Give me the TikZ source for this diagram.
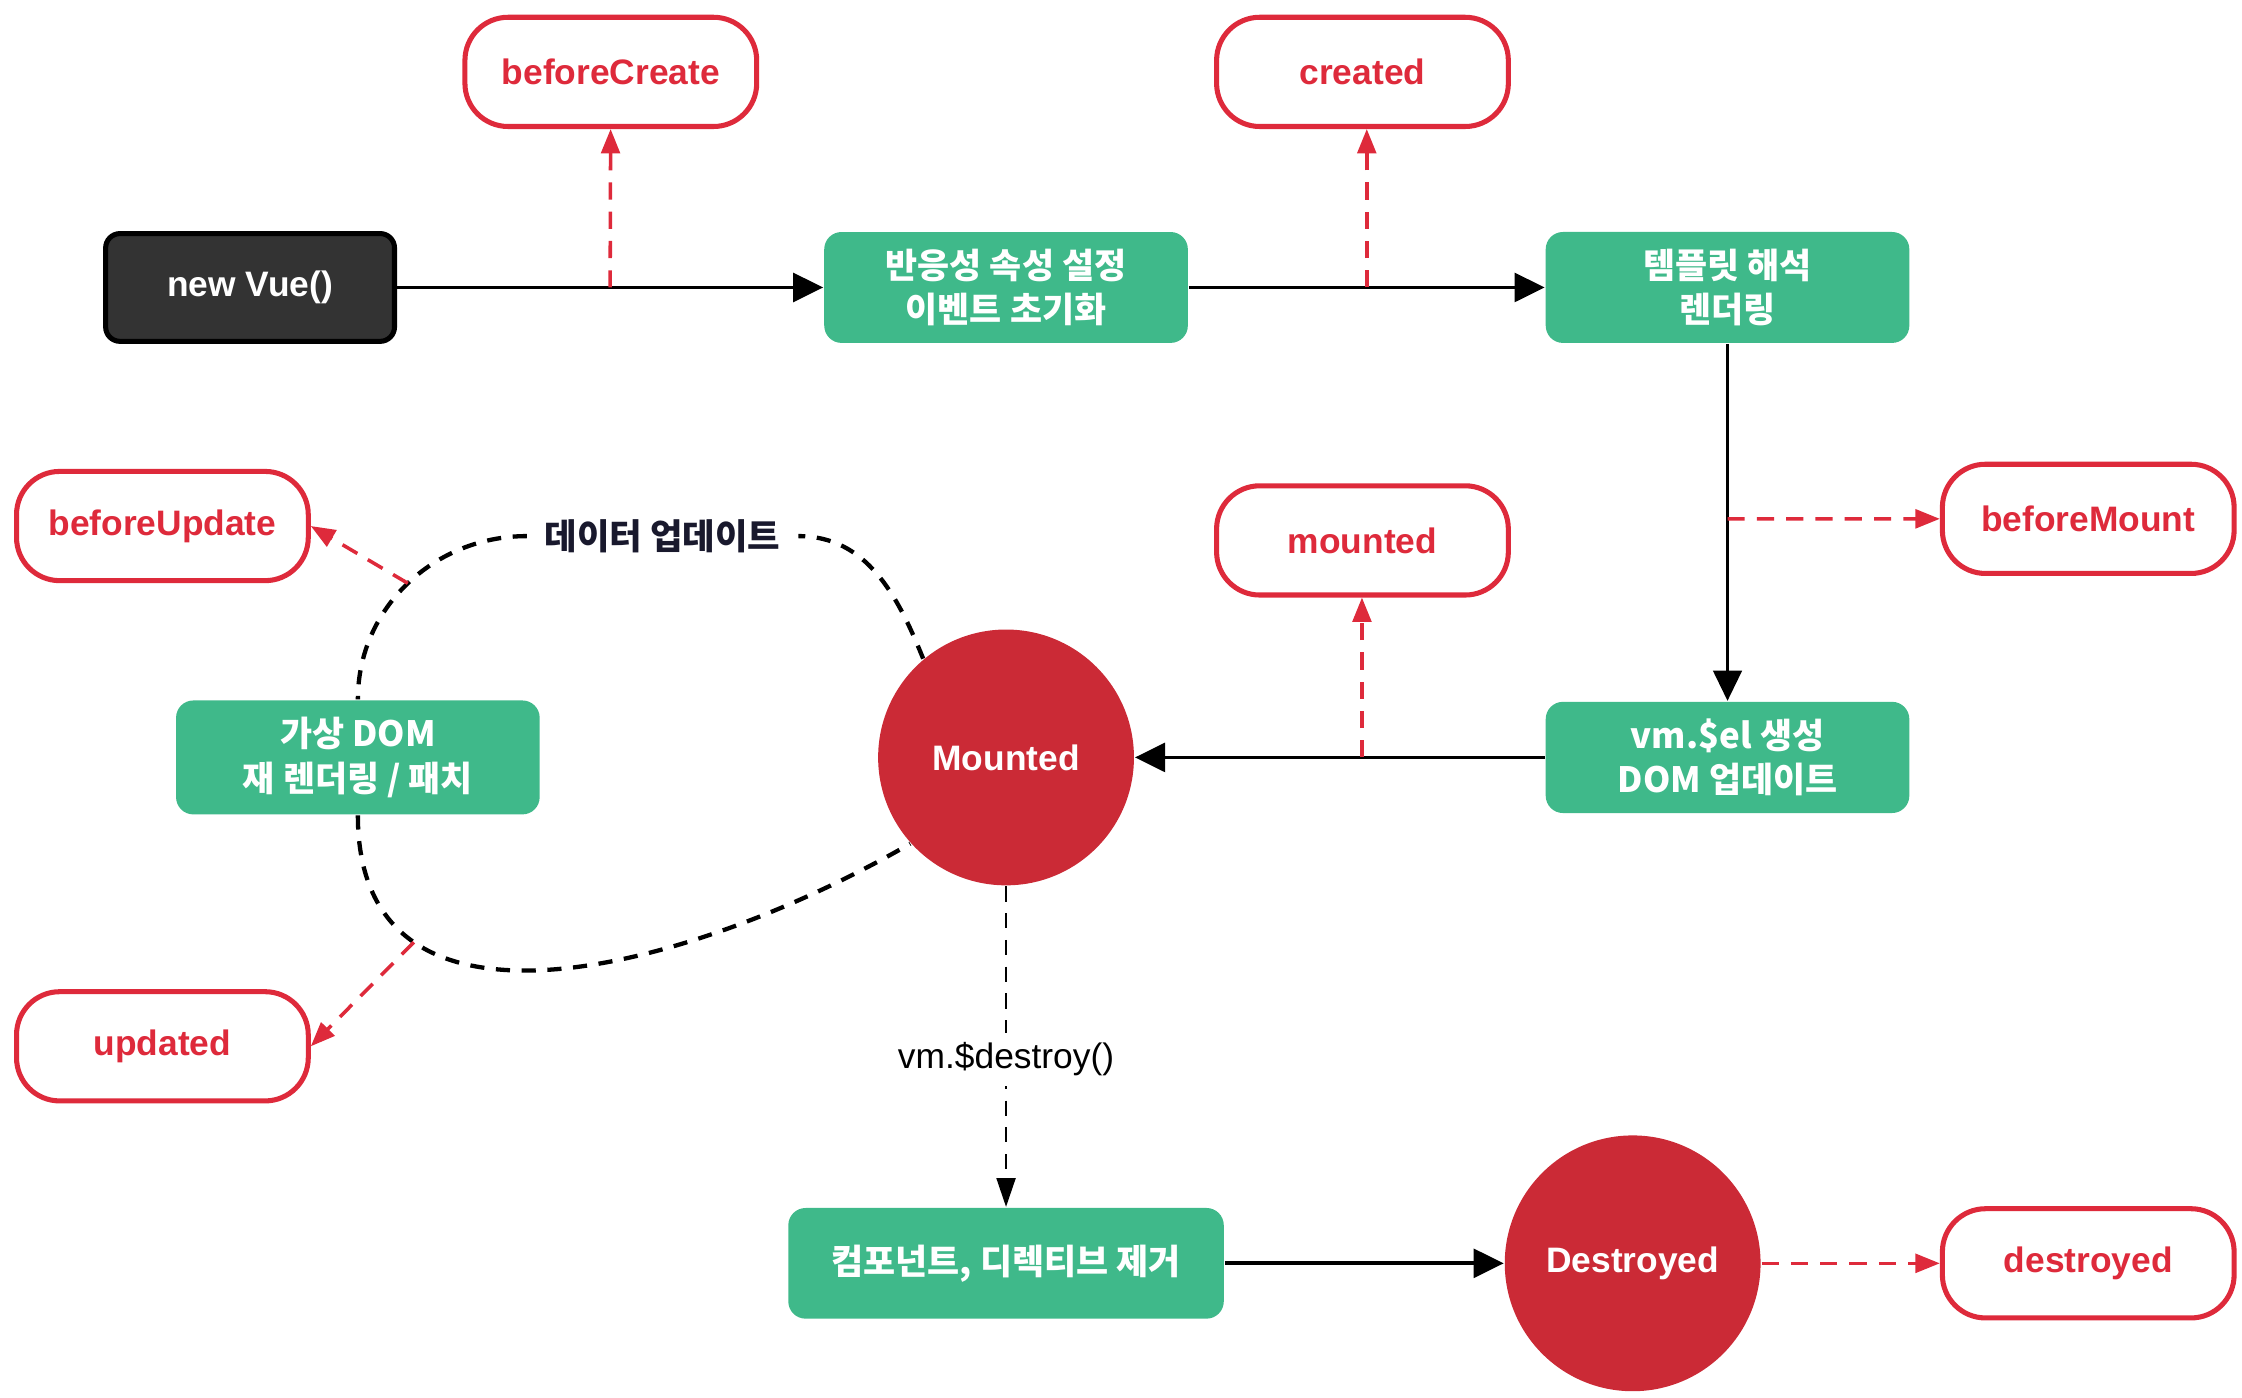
\documentclass[tikz,border=0pt]{standalone}
\usepackage{fontspec}
\setmainfont{Liberation Sans}
\newfontfamily\krfont{Noto Sans CJK KR}
\usetikzlibrary{arrows.meta, calc}
\definecolor{vgreen}{RGB}{63,185,138}
\definecolor{hookred}{RGB}{222,42,59}
\definecolor{circred}{RGB}{203,42,54}
\definecolor{darkbox}{RGB}{51,51,51}
\definecolor{navy}{RGB}{25,25,45}

\begin{document}
\begin{tikzpicture}[
    hook/.style={draw=hookred, line width=1pt, fill=white, rounded corners=0.3cm, minimum width=2.03cm, minimum height=0.76cm, text=hookred, font=\fontsize{7}{8.4}\selectfont\bfseries},
    stagebox/.style={fill=vgreen, rounded corners=0.12cm, minimum width=2.53cm, minimum height=0.77cm, text=white, align=center, font=\krfont\fontsize{6.9}{8.8}\selectfont\bfseries},
    statecirc/.style={circle, fill=circred, minimum size=1.78cm, inner sep=0pt, text=white, font=\fontsize{7}{8.4}\selectfont\bfseries},
    flow/.style={line width=0.75pt, -{Triangle[length=0.21cm,width=0.2cm]}},
    hookline/.style={color=hookred, line width=0.7pt, dash pattern=on 3.4pt off 2.4pt, -{Triangle[length=0.17cm,width=0.13cm]}},
    loopline/.style={line width=0.85pt, dash pattern=on 2.8pt off 2.3pt}
]
            \useasboundingbox (0,0) rectangle (15.6,-9.727);

            \node[draw=black, fill=darkbox, line width=1pt, rounded corners=0.1cm, minimum width=2.01cm, minimum height=0.75cm, text=white, font=\fontsize{7}{8.4}\selectfont\bfseries] (newvue) at (1.74,-2.0) {new Vue()};
            \node[hook] (bcreate) at (4.25,-0.5) {beforeCreate};
            \node[stagebox] (reactive) at (7.0,-2.0) {반응성 속성 설정\\이벤트 초기화};
            \node[hook] (created) at (9.48,-0.5) {created};
            \node[stagebox] (template) at (12.02,-2.0) {템플릿 해석\\렌더링};
            \node[hook] (bmount) at (14.53,-3.61) {beforeMount};
            \node[hook] (mountedh) at (9.48,-3.76) {mounted};
            \node[hook] (bupdate) at (1.13,-3.66) {beforeUpdate};
            \node[stagebox] (vdom) at (2.49,-5.27) {가상 DOM\\재 렌더링 / 패치};
            \node[statecirc] (mountedc) at (7.0,-5.27) {Mounted};
            \node[stagebox] (vmel) at (12.02,-5.27) {vm.\$el 생성\\DOM 업데이트};
            \node[hook] (updated) at (1.13,-7.28) {updated};
            \node[stagebox, minimum width=3.03cm] (remove) at (7.0,-8.79) {컴포넌트, 디렉티브 제거};
            \node[statecirc] (destroyedc) at (11.36,-8.79) {Destroyed};
            \node[hook] (destroyedh) at (14.53,-8.79) {destroyed};
            \node[text=navy, font=\krfont\fontsize{7}{8.4}\selectfont\bfseries] (dataupd) at (4.61,-3.73) {데이터 업데이트};

            \draw[flow] (newvue) -- coordinate[midway] (nvmid) (reactive);
            \draw[hookline] (nvmid) -- (bcreate);
            \draw[flow] (reactive) -- coordinate[midway] (rtmid) (template);
            \draw[hookline] (rtmid) -- (rtmid |- created.south);
            \draw[flow, line width=0.45pt] (template) -- coordinate[pos=0.49] (tvmid) (vmel);
            \draw[hookline] (tvmid) -- (bmount);
            \draw[flow] (vmel) -- coordinate[pos=0.446] (vmmid) (mountedc);
            \draw[hookline] (vmmid) -- (vmmid |- mountedh.south);
            \draw[line width=0.55pt, dash pattern=on 3pt off 2.3pt, -{Triangle[length=0.2cm,width=0.13cm]}] (mountedc) -- node[pos=0.54, fill=white, inner sep=2pt, font=\fontsize{7}{8.4}\selectfont] (destroycall) {vm.\$destroy()} (remove);
            \draw[flow] (remove) -- (destroyedc);
            \draw[hookline] (destroyedc) -- (destroyedh);

            \draw[loopline] (mountedc.130) to[out=112,in=0] (dataupd.east);
            \draw[loopline] (dataupd.west) to[out=180,in=90] coordinate[pos=0.5] (loopbu) (vdom.north);
            \draw[loopline] (vdom.south) to[out=-90,in=210,looseness=1.15] coordinate[pos=0.25] (loopud) (mountedc.222);
            \draw[hookline] (loopbu) -- (bupdate.east);
            \draw[hookline] (loopud) -- (updated.east);
\end{tikzpicture}
\end{document}
